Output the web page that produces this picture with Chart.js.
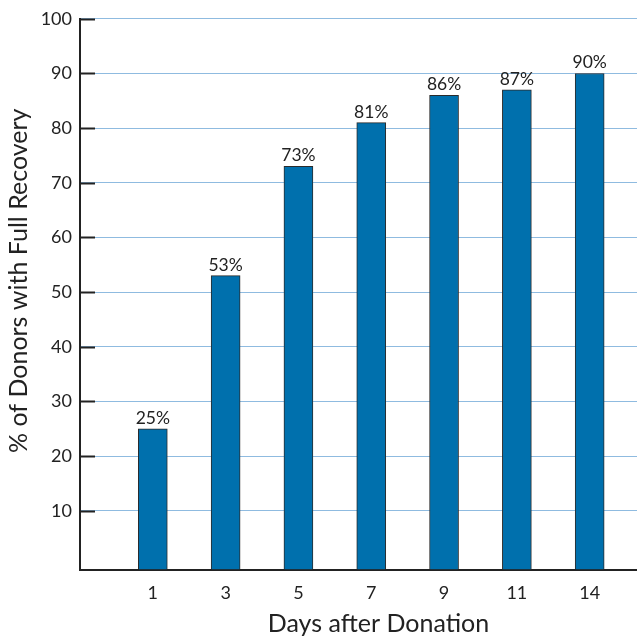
<!DOCTYPE html>
<html>
<head>
<meta charset="utf-8">
<script src="https://cdn.jsdelivr.net/npm/chart.js@4"></script>
<style>
  html, body { margin: 0; padding: 0; background: #ffffff; }
  #wrap { width: 637px; height: 637px; }
</style>
</head>
<body>
<div id="wrap"><canvas id="c" width="637" height="637"></canvas></div>
<script>
// Days after donation (category labels)
const days = ['1', '3', '5', '7', '9', '11', '14'];
// Share of donors with full recovery, percent
const recovery = [25, 53, 73, 81, 86, 87, 90];
// Value-axis tick labels
const yTicks = [10, 20, 30, 40, 50, 60, 70, 80, 90, 100];

const FONT = 'Lato, "Open Sans", sans-serif';
const INK = '#222222';
const AXIS_MIN = -0.75;
const X_TITLE = 'Days after Donation';
const Y_TITLE = '% of Donors with Full Recovery';

// Inward tick marks on the value axis, value labels above bars, and axis titles
const decorations = {
  id: 'decorations',
  afterDraw(chart) {
    const { ctx, chartArea, scales } = chart;
    const y = scales.y;
    ctx.save();
    ctx.strokeStyle = INK;
    ctx.lineWidth = 2;
    y.ticks.forEach(t => {
      const py = Math.round(y.getPixelForValue(t.value)) + 0.5;
      ctx.beginPath();
      ctx.moveTo(chartArea.left, py);
      ctx.lineTo(chartArea.left + 15, py);
      ctx.stroke();
    });

    const meta = chart.getDatasetMeta(0);
    ctx.fillStyle = INK;
    ctx.font = '17.5px ' + FONT;
    ctx.textAlign = 'center';
    ctx.textBaseline = 'alphabetic';
    meta.data.forEach((bar, i) => {
      ctx.fillText(recovery[i] + '%', bar.x, bar.y - 5);
    });

    // axis titles
    ctx.font = '25px ' + FONT;
    ctx.fillText(X_TITLE, chartArea.left + 298.5, 632);
    ctx.translate(27, chartArea.top + 262);
    ctx.rotate(-Math.PI / 2);
    ctx.fillText(Y_TITLE, 0, 0);
    ctx.restore();
  }
};

new Chart(document.getElementById('c'), {
  type: 'bar',
  data: {
    datasets: [{
      data: recovery.map((v, i) => ({ x: i + 1, y: v })),
      base: AXIS_MIN,
      backgroundColor: '#0070ad',
      borderColor: '#2b2b2b',
      borderWidth: 1,
      borderSkipped: 'bottom',
      barThickness: 29
    }]
  },
  options: {
    responsive: false,
    animation: false,
    events: [],
    layout: { padding: { top: 16, right: 0, left: 0, bottom: 0 } },
    plugins: { legend: { display: false }, tooltip: { enabled: false } },
    scales: {
      x: {
        type: 'linear',
        offset: false,
        min: 0,
        max: 7.65,
        afterBuildTicks: s => { s.ticks = days.map((d, i) => ({ value: i + 1 })); },
        afterFit: s => { s.height = 67.5; },
        grid: { display: false, drawTicks: false },
        border: { display: true, color: INK, width: 2 },
        ticks: {
          autoSkip: false,
          maxRotation: 0,
          padding: 13,
          color: INK,
          font: { family: FONT, size: 18 },
          callback: v => days[v - 1]
        },
        title: { display: false }
      },
      y: {
        min: AXIS_MIN,
        max: 100,
        afterBuildTicks: s => { s.ticks = yTicks.map(v => ({ value: v })); },
        afterFit: s => { s.width = 80; },
        grid: { color: '#8fbbe0', lineWidth: 1, drawTicks: false },
        border: { display: true, color: INK, width: 2 },
        ticks: {
          padding: 8,
          color: INK,
          font: { family: FONT, size: 18 }
        },
        title: { display: false }
      }
    }
  },
  plugins: [decorations]
});
</script>
</body>
</html>
